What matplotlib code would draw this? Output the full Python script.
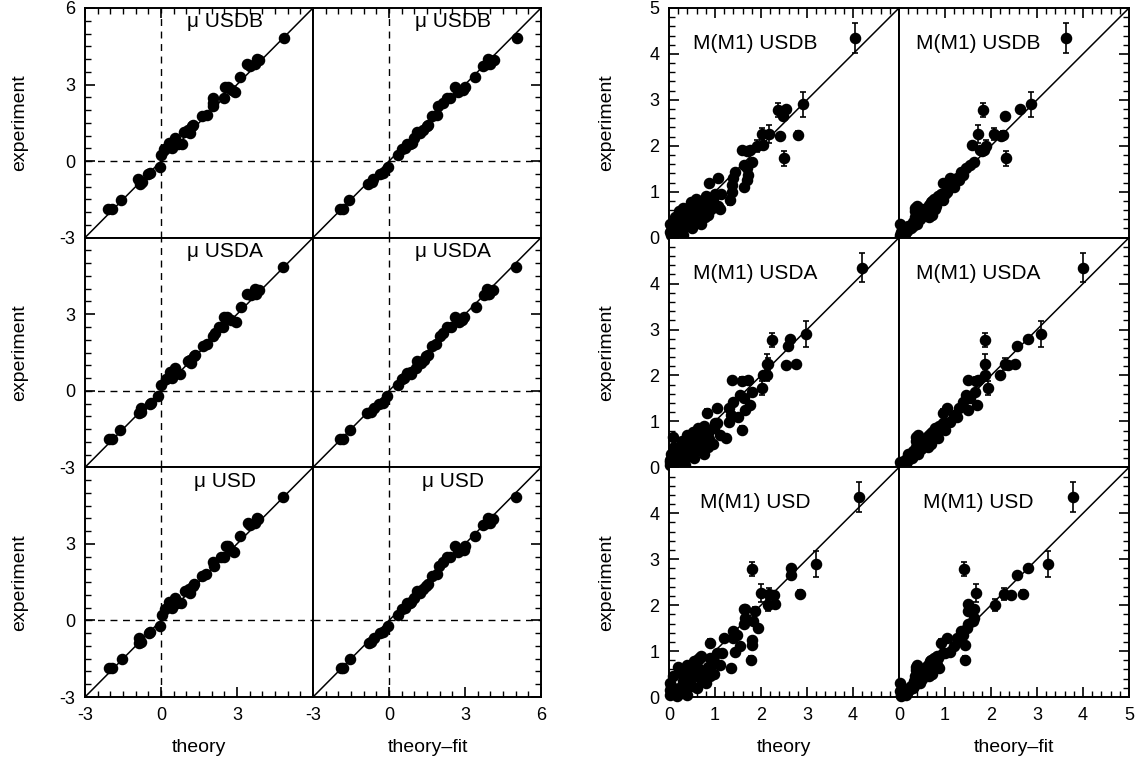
import matplotlib.pyplot as plt
from matplotlib.ticker import MultipleLocator, FuncFormatter

plt.rcParams['font.family'] = ['Liberation Sans', 'DejaVu Sans']
plt.rcParams['axes.unicode_minus'] = False

# ---- magnetic moments (left block) ----
mu_exp = [-1.88, -1.88, -1.53, -0.89, -0.83, -0.69, -0.50, -0.46, -0.22, 0.23,
          0.46, 0.50, 0.67, 0.69, 0.72, 0.89, 1.09, 1.16, 1.22, 1.36,
          1.42, 1.75, 1.82, 2.15, 2.28, 2.48, 2.48, 2.70, 2.77, 2.90,
          2.90, 3.30, 3.74, 3.80, 3.80, 3.96, 4.00, 4.84]
mu_usdb = [-2.08, -1.95, -1.58, -0.83, -0.76, -0.89, -0.50, -0.43, -0.04, 0.00,
           0.13, 0.43, 0.82, 0.69, 0.32, 0.56, 1.15, 0.89, 1.08, 1.22,
           1.28, 1.61, 1.81, 2.07, 2.07, 2.07, 2.47, 2.93, 2.80, 2.53,
           2.66, 3.13, 3.52, 3.39, 3.72, 3.85, 3.79, 4.84]
mu_usdb_fit = [-1.93, -1.80, -1.58, -0.81, -0.68, -0.62, -0.35, -0.22, -0.05, 0.37,
               0.50, 0.64, 0.83, 0.70, 0.90, 1.00, 1.23, 1.10, 1.36, 1.49,
               1.55, 1.69, 1.89, 1.95, 2.15, 2.28, 2.40, 2.74, 2.94, 2.61,
               3.00, 3.40, 3.73, 3.86, 4.00, 4.13, 3.90, 5.05]
mu_usda = [-2.05, -1.95, -1.60, -0.85, -0.78, -0.80, -0.45, -0.40, -0.10, 0.00,
           0.20, 0.45, 0.75, 0.60, 0.35, 0.55, 1.20, 1.05, 1.15, 1.30,
           1.35, 1.65, 1.80, 2.05, 2.15, 2.30, 2.45, 2.95, 2.75, 2.60,
           2.50, 3.15, 3.55, 3.40, 3.75, 3.85, 3.70, 4.80]
mu_usda_fit = [-1.95, -1.82, -1.55, -0.85, -0.70, -0.60, -0.38, -0.25, -0.08, 0.35,
               0.50, 0.60, 0.85, 0.72, 0.88, 1.05, 1.25, 1.12, 1.38, 1.45,
               1.55, 1.70, 1.85, 2.00, 2.15, 2.30, 2.45, 2.75, 2.90, 2.60,
               2.95, 3.45, 3.75, 3.90, 3.95, 4.10, 3.85, 5.00]
mu_usd = [-2.05, -1.92, -1.55, -0.88, -0.80, -0.85, -0.48, -0.42, -0.05, 0.05,
          0.15, 0.45, 0.80, 0.65, 0.30, 0.55, 1.15, 0.95, 1.10, 1.25,
          1.30, 1.60, 1.78, 2.10, 2.05, 2.35, 2.50, 2.90, 2.78, 2.55,
          2.65, 3.10, 3.50, 3.42, 3.70, 3.82, 3.78, 4.82]
mu_usd_fit = [-1.90, -1.80, -1.55, -0.80, -0.70, -0.60, -0.35, -0.25, -0.05, 0.35,
              0.50, 0.62, 0.82, 0.72, 0.88, 1.00, 1.22, 1.10, 1.35, 1.48,
              1.52, 1.70, 1.88, 1.98, 2.15, 2.28, 2.42, 2.72, 2.95, 2.62,
              3.00, 3.40, 3.72, 3.88, 4.00, 4.10, 3.92, 5.02]

# ---- M1 matrix elements (right block) ----
# large ones first, then the mid range, then the crowd near zero
m1_exp = [4.35, 2.90, 2.24, 1.73, 2.78, 2.26, 2.25, 2.00, 2.65, 2.80, 2.22, 2.02,
          1.91, 1.88, 1.91, 1.58, 1.51, 1.65, 1.36, 1.25, 1.43, 1.29,
          1.14, 1.10, 1.29, 0.99, 0.81, 1.18, 0.63, 0.70, 0.96, 0.96,
          0.85, 0.75, 0.90, 0.65, 0.80, 0.55, 0.72, 0.60, 0.45, 0.70,
          0.55, 0.40, 0.65, 0.30, 0.50, 0.35, 0.20, 0.45, 0.10, 0.25,
          0.05, 0.30, 0.15, 0.08, 0.15, 0.25, 0.40, 0.50, 0.30, 0.20,
          0.62, 0.58, 0.78, 0.68, 0.45, 0.62, 0.02, 0.05, 0.12, 0.85]
m1_err = [0.32, 0.28, 0.08, 0.16, 0.15, 0.20, 0.13, 0.13, 0.05, 0.05, 0.04, 0.05,
          0.05, 0.08, 0.05, 0.05, 0.05, 0.05, 0.05, 0.05, 0.05, 0.05,
          0.05, 0.05, 0.05, 0.05, 0.09, 0.08, 0.05, 0.05, 0.05, 0.05,
          0.04, 0.04, 0.04, 0.04, 0.04, 0.04, 0.04, 0.04, 0.04, 0.04,
          0.04, 0.04, 0.04, 0.04, 0.04, 0.04, 0.04, 0.04, 0.04, 0.04,
          0.04, 0.04, 0.04, 0.04, 0.04, 0.04, 0.04, 0.04, 0.04, 0.04,
          0.04, 0.04, 0.04, 0.04, 0.04, 0.04, 0.04, 0.04, 0.04, 0.04]
m1_usdb = [4.04, 2.91, 2.80, 2.51, 2.36, 2.18, 2.03, 1.91, 2.47, 2.54, 2.41, 2.04,
           1.58, 1.69, 1.76, 1.62, 1.69, 1.80, 1.72, 1.69, 1.43, 1.40,
           1.36, 1.62, 1.07, 1.36, 1.33, 0.86, 1.11, 1.07, 1.14, 1.00,
           0.95, 0.90, 0.80, 0.75, 0.70, 0.65, 0.60, 0.55, 0.50, 0.45,
           0.40, 0.35, 0.30, 0.28, 0.25, 0.20, 0.15, 0.12, 0.10, 0.08,
           0.05, 0.03, 0.05, 0.18, 0.25, 0.40, 0.60, 0.85, 0.70, 0.50,
           0.35, 0.22, 0.48, 0.65, 0.78, 0.92, 0.12, 0.30, 0.02, 0.58]
m1_usdb_fit = [3.64, 2.87, 2.27, 2.32, 1.82, 1.71, 2.07, 1.90, 2.30, 2.62, 2.22, 1.58,
               1.75, 1.80, 1.85, 1.55, 1.45, 1.62, 1.40, 1.30, 1.35, 1.25,
               1.15, 1.20, 1.10, 1.05, 0.95, 0.95, 0.78, 0.80, 1.00, 0.92,
               0.88, 0.80, 0.85, 0.70, 0.72, 0.60, 0.65, 0.55, 0.48, 0.40,
               0.50, 0.38, 0.35, 0.30, 0.45, 0.30, 0.18, 0.35, 0.08, 0.20,
               0.03, 0.02, 0.10, 0.12, 0.18, 0.30, 0.45, 0.72, 0.40, 0.25,
               0.50, 0.35, 0.70, 0.65, 0.65, 0.70, 0.03, 0.10, 0.05, 0.75]
m1_usda = [4.20, 2.97, 2.75, 2.03, 2.23, 2.12, 2.16, 2.14, 2.59, 2.62, 2.54, 2.05,
           1.36, 1.58, 1.72, 1.54, 1.62, 1.80, 1.76, 1.65, 1.40, 1.30,
           1.35, 1.50, 1.05, 1.30, 1.58, 0.82, 1.23, 1.10, 1.05, 1.00,
           0.98, 0.85, 0.75, 0.80, 0.65, 0.70, 0.55, 0.62, 0.55, 0.40,
           0.45, 0.38, 0.08, 0.32, 0.30, 0.25, 0.18, 0.10, 0.12, 0.06,
           0.03, 0.05, 0.02, 0.20, 0.30, 0.45, 0.65, 0.95, 0.75, 0.55,
           0.40, 0.28, 0.52, 0.60, 0.85, 0.88, 0.15, 0.35, 0.03, 0.62]
m1_usda_fit = [3.99, 3.08, 2.52, 1.94, 1.87, 1.86, 2.30, 1.88, 2.56, 2.81, 2.38, 2.20,
               1.49, 1.67, 1.72, 1.46, 1.55, 1.65, 1.69, 1.50, 1.40, 1.30,
               1.20, 1.25, 1.05, 1.10, 1.00, 0.95, 0.85, 0.80, 1.00, 0.95,
               0.85, 0.78, 0.88, 0.70, 0.75, 0.58, 0.68, 0.55, 0.50, 0.42,
               0.50, 0.40, 0.38, 0.32, 0.45, 0.30, 0.20, 0.38, 0.10, 0.22,
               0.05, 0.20, 0.12, 0.15, 0.20, 0.30, 0.48, 0.70, 0.42, 0.28,
               0.55, 0.38, 0.72, 0.62, 0.62, 0.68, 0.05, 0.12, 0.02, 0.78]
m1_usd = [4.12, 3.20, 2.85, 1.65, 1.80, 2.01, 2.17, 2.16, 2.65, 2.65, 2.28, 2.30,
          1.62, 1.87, 1.65, 1.62, 1.94, 1.83, 1.47, 1.81, 1.40, 1.40,
          1.81, 1.55, 1.20, 1.43, 1.78, 0.89, 1.34, 1.10, 1.15, 1.05,
          0.90, 1.00, 0.70, 0.85, 0.60, 0.75, 0.55, 0.65, 0.60, 0.40,
          0.50, 0.45, 0.20, 0.38, 0.28, 0.30, 0.22, 0.08, 0.15, 0.05,
          0.02, 0.02, 0.03, 0.25, 0.35, 0.50, 0.70, 0.98, 0.80, 0.60,
          0.45, 0.30, 0.55, 0.58, 0.90, 0.85, 0.18, 0.40, 0.05, 0.65]
m1_usd_fit = [3.78, 3.23, 2.70, 1.63, 1.42, 1.67, 2.29, 2.09, 2.56, 2.80, 2.43, 1.51,
              1.63, 1.51, 1.55, 1.50, 1.48, 1.60, 1.40, 1.30, 1.35, 1.25,
              1.43, 1.20, 1.05, 1.10, 1.43, 0.92, 0.88, 0.82, 1.00, 0.95,
              0.85, 0.80, 0.82, 0.72, 0.70, 0.62, 0.65, 0.58, 0.52, 0.40,
              0.50, 0.42, 0.36, 0.35, 0.45, 0.32, 0.22, 0.35, 0.12, 0.25,
              0.05, 0.02, 0.12, 0.18, 0.22, 0.32, 0.50, 0.72, 0.45, 0.30,
              0.50, 0.36, 0.68, 0.60, 0.66, 0.65, 0.05, 0.15, 0.02, 0.75]

mu_panels = [[mu_usdb, mu_usdb_fit], [mu_usda, mu_usda_fit], [mu_usd, mu_usd_fit]]
m1_panels = [[m1_usdb, m1_usdb_fit], [m1_usda, m1_usda_fit], [m1_usd, m1_usd_fit]]
models = ['USDB', 'USDA', 'USD']

W, H = 1139, 767
fig = plt.figure(figsize=(W / 100, H / 100), dpi=100)

top = 8
ph = (697 - 8) / 3


def setup(ax, row, col, lo, hi, major, minor):
    ax.set_xlim(lo, hi)
    ax.set_ylim(lo, hi)
    for s in ax.spines.values():
        s.set_linewidth(1.4)
    ax.xaxis.set_major_locator(MultipleLocator(major))
    ax.xaxis.set_minor_locator(MultipleLocator(minor))
    ax.yaxis.set_major_locator(MultipleLocator(major))
    ax.yaxis.set_minor_locator(MultipleLocator(minor))
    # drop the top y value and the right x value where panels meet
    ax.yaxis.set_major_formatter(FuncFormatter(
        lambda v, p: '' if (abs(v - hi) < 1e-6 and row > 0) else '%g' % v))
    ax.xaxis.set_major_formatter(FuncFormatter(
        lambda v, p: '' if (abs(v - hi) < 1e-6 and col == 0) else '%g' % v))
    ax.tick_params(which='both', direction='in', left=(col == 0), right=(col == 1),
                   top=(row == 0), bottom=(row == 2),
                   labelleft=(col == 0), labelbottom=(row == 2), labelsize=13)
    ax.tick_params(which='major', length=7, width=1.2, pad=7)
    ax.tick_params(which='minor', length=4, width=1.0)
    ax.plot([lo, hi], [lo, hi], color='k', lw=1.1)


for row in range(3):
    bottom = 1 - (top + (row + 1) * ph) / H
    for col in range(2):
        # left block: magnetic moments
        ax = fig.add_axes([(85 + col * 228) / W, bottom, 228 / W, ph / H])
        setup(ax, row, col, -3, 6, 3, 0.5)
        ax.axvline(0, color='k', lw=1.0, ls=(0, (5, 4)))
        ax.axhline(0, color='k', lw=1.0, ls=(0, (5, 4)))
        ax.plot(mu_panels[row][col], mu_exp, 'o', color='k', ms=7.3, clip_on=False)
        ax.text(0.615, 0.94, '\u03bc ' + models[row], transform=ax.transAxes,
                ha='center', va='center', fontsize=15)

        # right block: M1 matrix elements
        ax = fig.add_axes([(669 + col * 230) / W, bottom, 230 / W, ph / H])
        setup(ax, row, col, 0, 5, 1, 0.2)
        ax.errorbar(m1_panels[row][col], m1_exp, yerr=m1_err, fmt='o', color='k',
                    ms=7.3, elinewidth=1.2, capsize=2.5, capthick=1.2, clip_on=False)
        ax.text([0.376, 0.343][col], 0.846, 'M(M1) ' + models[row], transform=ax.transAxes,
                ha='center', va='center', fontsize=15)

    yc = 1 - (top + (row + 0.5) * ph) / H
    fig.text(20 / W, yc, 'experiment', rotation=90, ha='center', va='center', fontsize=14)
    fig.text(607 / W, yc, 'experiment', rotation=90, ha='center', va='center', fontsize=14)

for xc, lab in [(199, 'theory'), (428, 'theory\u2013fit'), (784, 'theory'), (1014, 'theory\u2013fit')]:
    fig.text(xc / W, 1 - 748 / H, lab, ha='center', va='center', fontsize=14)

fig.savefig('out.png', dpi=100)
